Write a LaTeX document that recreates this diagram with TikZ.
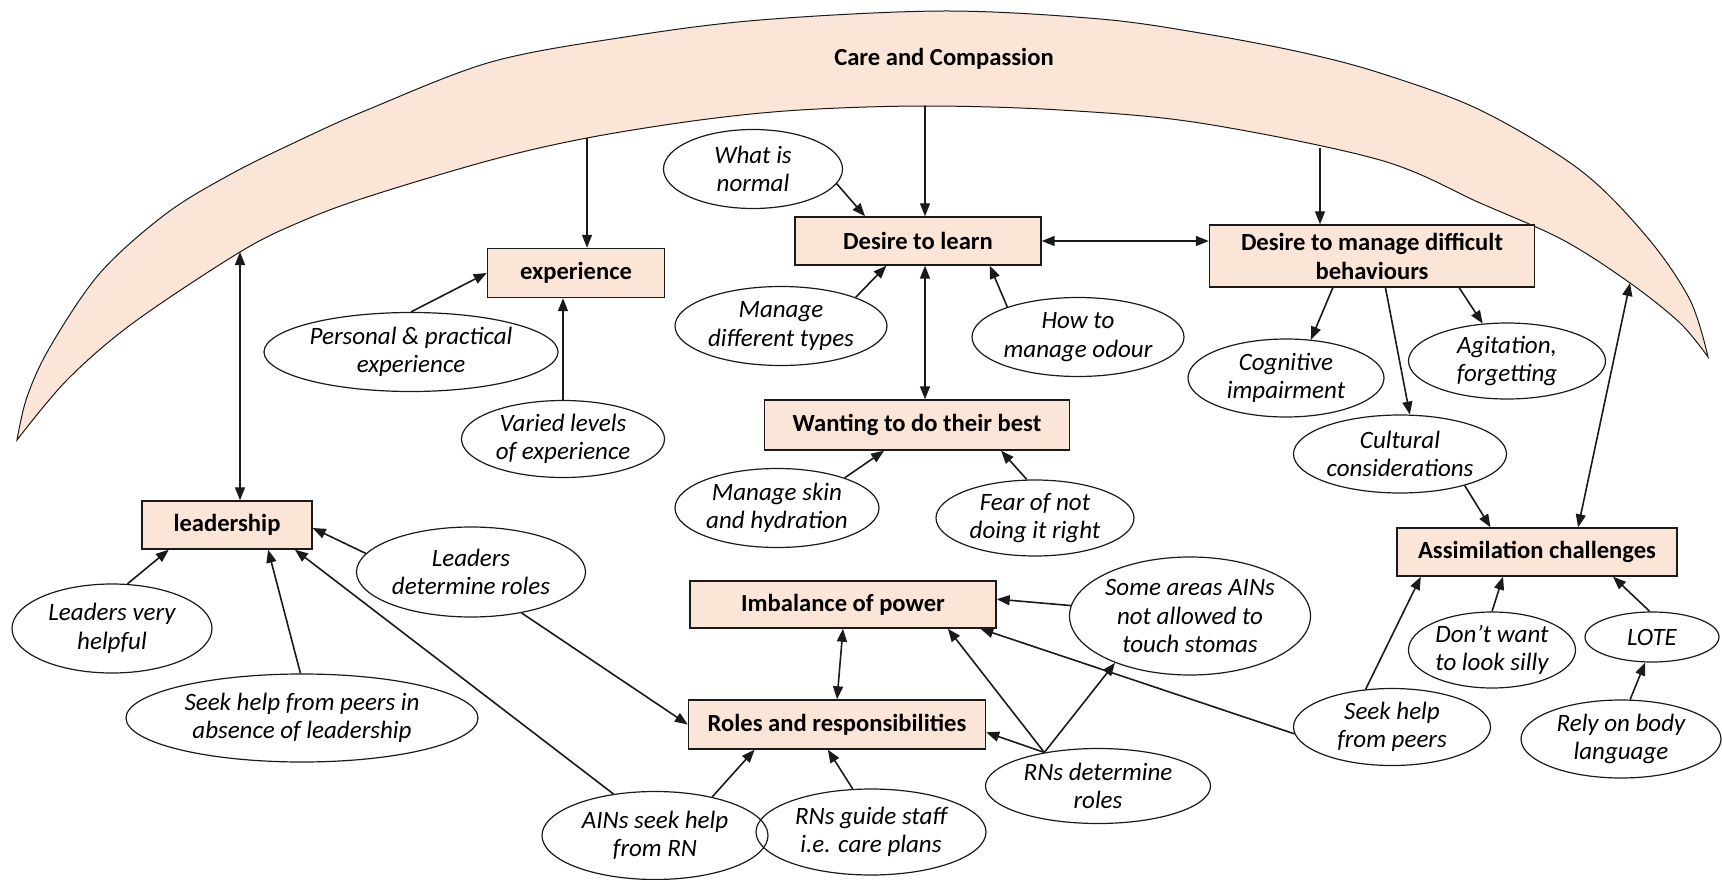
\documentclass[tikz,border=0pt]{standalone}
\usepackage{fontspec}
\setmainfont{Carlito}
\usetikzlibrary{shapes.geometric, arrows.meta}
\definecolor{carepeach}{HTML}{FBE5D6}
\definecolor{careink}{HTML}{1A1A1A}
\newcommand{\themefont}{\fontsize{24.6}{29}\selectfont\bfseries}
\newcommand{\ideafont}{\fontsize{25}{28.5}\selectfont\itshape}
\tikzset{
  theme/.style={draw=careink, fill=carepeach, font=\themefont, line width=1.4pt, inner sep=0pt, align=center},
  idea/.style={draw=careink, ellipse, font=\ideafont, line width=1.2pt, inner sep=0pt, align=center},
  link/.style={draw=careink, -{Triangle[length=13pt,width=10pt]}, line width=1.6pt},
  twoway/.style={draw=careink, {Triangle[length=13pt,width=10pt]}-{Triangle[length=13pt,width=10pt]}, line width=1.6pt}
}

\begin{document}
\begin{tikzpicture}[x=1pt, y=-1pt]
  \useasboundingbox (0,0) rectangle (1722,880);

  % Care and Compassion band (TOP)
  \draw[careink, fill=carepeach, line width=1pt]
    plot[smooth, tension=0.55] coordinates {(17,440) (27,397) (50,347) (100,273) (167,213) (233,173) (300,140) (367,110) (491,62) (625,37) (760,20) (944,11) (1100,19) (1200,33) (1300,52) (1380,73) (1480,110) (1580,170) (1647,237) (1690,300) (1708,357)}
    -- plot[smooth, tension=0.55] coordinates {(1708,357) (1680,323) (1630,283) (1563,240) (1480,203) (1380,160) (1200,123) (1060,110) (925,106) (800,110) (700,120) (587,138) (491,160) (367,197) (300,222) (240,252) (133,323) (67,380) (17,440)}
    -- cycle;
  \node[font=\themefont] (care) at (944,59) {Care and Compassion};

  % Points on the inner edge of the band
  \coordinate (arcLead) at (240,252);
  \coordinate (arcExp) at (587,138);
  \coordinate (arcLearn) at (925,106);
  \coordinate (arcManage) at (1320,148);
  \coordinate (arcAssim) at (1630,283);

  % Themes
  \node[theme, minimum width=177pt, minimum height=49pt] (exp) at (576,273) {experience};
  \node[theme, minimum width=246pt, minimum height=48pt] (learn) at (918,241) {Desire to learn};
  \node[theme, minimum width=325pt, minimum height=62pt] (manage) at (1372,256) {Desire to manage difficult\\behaviours};
  \node[theme, minimum width=305pt, minimum height=50pt] (best) at (917,425) {Wanting to do their best};
  \node[theme, minimum width=170pt, minimum height=48pt] (lead) at (227,525) {leadership};
  \node[theme, minimum width=306pt, minimum height=47pt] (power) at (843,604.5) {Imbalance of power};
  \node[theme, minimum width=297pt, minimum height=49pt] (roles) at (837,724.5) {Roles and responsibilities};
  \node[theme, minimum width=280pt, minimum height=48pt] (assim) at (1537,552) {Assimilation challenges};

  % Sub-themes
  \node[idea, minimum width=179pt, minimum height=79pt] (normal) at (753,169) {What is\\normal};
  \node[idea, minimum width=294pt, minimum height=79pt] (pers) at (411,352) {Personal \& practical\\experience};
  \node[idea, minimum width=203pt, minimum height=77pt] (varied) at (563,439) {Varied levels\\of experience};
  \node[idea, minimum width=212pt, minimum height=79pt] (types) at (781,326) {Manage\\different types};
  \node[idea, minimum width=212pt, minimum height=79pt] (odour) at (1078,337) {How to\\manage odour};
  \node[idea, minimum width=196pt, minimum height=78pt] (cogn) at (1286,378) {Cognitive\\impairment};
  \node[idea, minimum width=197pt, minimum height=76pt] (agit) at (1507,361) {Agitation,\\forgetting};
  \node[idea, minimum width=213pt, minimum height=78pt] (cult) at (1400,454) {Cultural\\considerations};
  \node[idea, minimum width=204pt, minimum height=79pt] (skin) at (777,508) {Manage skin\\and hydration};
  \node[idea, minimum width=198pt, minimum height=76pt] (fear) at (1035,518) {Fear of not\\doing it right};
  \node[idea, minimum width=241pt, minimum height=118pt] (stomas) at (1190,616) {Some areas AINs\\not allowed to\\touch stomas};
  \node[idea, minimum width=200pt, minimum height=89pt] (vhelp) at (112,628.5) {Leaders very\\helpful};
  \node[idea, minimum width=352pt, minimum height=88pt] (absence) at (302,718) {Seek help from peers in\\absence of leadership};
  \node[idea, minimum width=229pt, minimum height=90pt] (ldroles) at (471,572) {Leaders\\determine roles};
  \node[idea, minimum width=226pt, minimum height=88pt] (ains) at (655,835.5) {AINs seek help\\from RN};
  \node[idea, minimum width=230pt, minimum height=86pt] (guide) at (871,832) {RNs guide staff\\i.e. care plans};
  \node[idea, minimum width=225pt, minimum height=75pt] (rnroles) at (1098,786) {RNs determine\\roles};
  \node[idea, minimum width=197pt, minimum height=77pt] (peers) at (1392,727) {Seek help\\from peers};
  \node[idea, minimum width=167pt, minimum height=76pt] (silly) at (1492,650) {Don’t want\\to look silly};
  \node[idea, minimum width=134pt, minimum height=50pt] (lote) at (1652,637) {LOTE};
  \node[idea, minimum width=200pt, minimum height=78pt] (body) at (1621,739) {Rely on body\\language};

  % Band to themes
  \draw[link, line width=1.3pt] (arcExp) -- (arcExp |- exp.north);
  \draw[link, line width=1.3pt] (arcLearn) -- (arcLearn |- learn.north);
  \draw[link, line width=1.3pt] (arcManage) -- (arcManage |- manage.north);
  \draw[twoway] (arcLead |- lead.north) -- (arcLead);
  \draw[twoway] (assim.31) -- (arcAssim);

  % experience
  \draw[link] (pers.north) -- (exp.west);
  \draw[link] (varied.north) -- (varied.north |- exp.south);

  % Desire to learn
  \draw[link] (normal.-10) -- (learn.155.6);
  \draw[link] (types.21) -- (learn.-142);
  \draw[link] (odour.157) -- (learn.-19);
  \draw[twoway] ([xshift=7pt]learn.south) -- ([xshift=7pt]learn.south |- best.north);
  \draw[twoway] (learn.east) -- (learn.east -| manage.west);

  % Desire to manage difficult behaviours
  \draw[link] (manage.-141.5) -- (cogn.57);
  \draw[link] (manage.-67) -- (cult.76);
  \draw[link] (manage.-20.5) -- (agit.123);

  % Wanting to do their best
  \draw[link] (skin.24) -- (best.-142);
  \draw[link] (fear.102) -- (best.-17.4);

  % Assimilation challenges
  \draw[link] (cult.-26) -- (assim.152);
  \draw[link] (peers.125) -- (assim.-168);
  \draw[link] (silly.north) -- (assim.-144);
  \draw[link] (lote.95) -- (assim.-18.7);
  \draw[link] (body.77) -- (lote.-105);

  % Imbalance of power and roles
  \draw[twoway] (power.south) -- (roles.north);
  \draw[link] (stomas.175) -- (power.2);
  \draw[link] (rnroles.148) -- (power.-13.5);
  \draw[link] (rnroles.148) -- (roles.-3.3);
  \draw[link] (rnroles.148) -- (stomas.-148);
  \draw[link] (peers.-176) -- (power.-10.7);
  \draw[link] (ldroles.-39) -- (roles.west);
  \draw[link] (ains.34) -- (roles.-163.4);
  \draw[link] (guide.113) -- (roles.-110);

  % leadership
  \draw[link] (vhelp.71) -- (lead.-157);
  \draw[link] (absence.92) -- (lead.-31);
  \draw[link] (ldroles.170) -- (lead.-2);
  \draw[link] (ains.135) -- (lead.-20.6);
\end{tikzpicture}
\end{document}
